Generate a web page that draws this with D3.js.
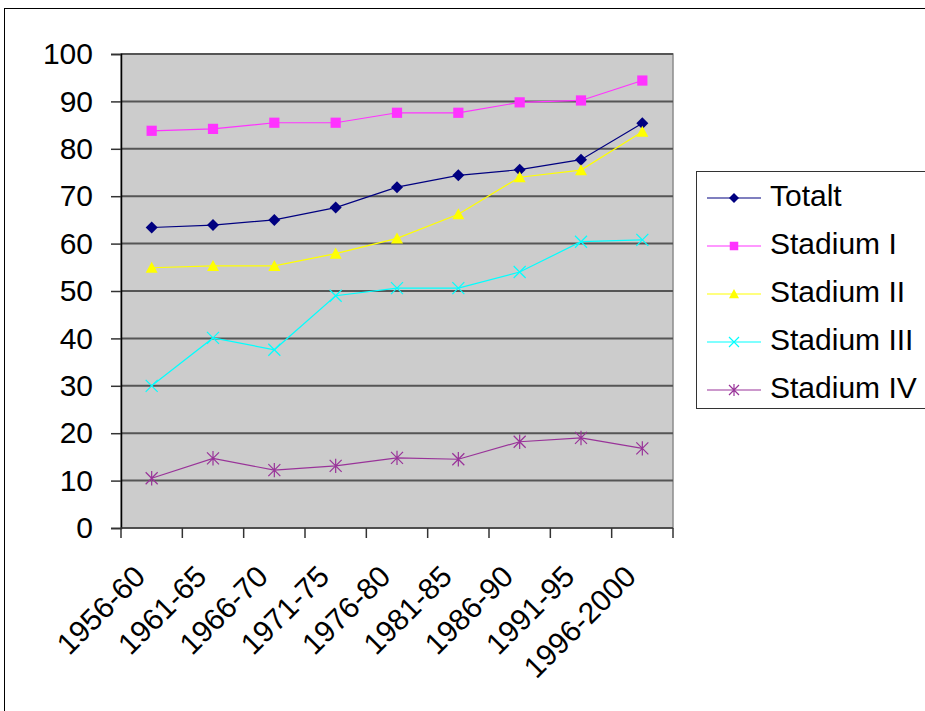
<!DOCTYPE html>
<html>

<head>
    <meta charset="utf-8">
    <style>
        body {
            margin: 0;
            background-color: white;
        }

        .chart-container {
            width: 925px;
            height: 711px;
            font-family: 'Liberation Sans', Arial, sans-serif;
        }

        svg {
            overflow: hidden;
        }
    </style>
</head>

<body>
    <div class="chart-container">
        <svg width="925px" height="711px">

        </svg>
    </div>
</body>

<script src="https://d3js.org/d3.v7.min.js"></script>

<script>
    // data
    let categories = ["1956-60", "1961-65", "1966-70", "1971-75", "1976-80", "1981-85", "1986-90", "1991-95", "1996-2000"];
    let seriesNames = ["Totalt", "Stadium I", "Stadium II", "Stadium III", "Stadium IV"];
    let totalt = [63.4, 63.9, 65.0, 67.6, 71.9, 74.4, 75.6, 77.7, 85.4];
    let stadium1 = [83.8, 84.2, 85.5, 85.5, 87.6, 87.6, 89.8, 90.2, 94.4];
    let stadium2 = [54.9, 55.3, 55.3, 57.9, 61.1, 66.2, 74.0, 75.5, 83.6];
    let stadium3 = [30.0, 40.1, 37.6, 49.0, 50.6, 50.6, 54.0, 60.4, 60.8];
    let stadium4 = [10.5, 14.7, 12.2, 13.1, 14.8, 14.5, 18.2, 19.0, 16.8];
    let yTicks = [0, 10, 20, 30, 40, 50, 60, 70, 80, 90, 100];

    let colors = ["#000080", "#ff33ff", "#ffff00", "#00ffff", "#993399"];
    let markers = ["diamond", "square", "triangle", "x", "star"];
    let allSeries = [totalt, stadium1, stadium2, stadium3, stadium4];

    let svg = d3.select("svg")

    let plotLeft = 121, plotRight = 673, plotTop = 54, plotBottom = 528;

    let x = d3.scaleBand()
        .domain(categories)
        .range([plotLeft, plotRight])

    let y = d3.scaleLinear()
        .domain([0, 100])
        .range([plotBottom, plotTop])

    // outer chart border
    svg.append("rect")
        .attr("x", 4.5)
        .attr("y", 8.5)
        .attr("width", 940)
        .attr("height", 740)
        .style("fill", "white")
        .style("stroke", "black")
        .style("stroke-width", 1)

    // plot area
    svg.append("rect")
        .attr("x", plotLeft)
        .attr("y", plotTop)
        .attr("width", plotRight - plotLeft)
        .attr("height", plotBottom - plotTop)
        .style("fill", "#cccccc")
        .style("stroke", "#8c8c8c")
        .style("stroke-width", 1.5)

    // gridlines
    svg.selectAll(".grid")
        .data(yTicks.slice(1))
        .join("line")
        .attr("x1", plotLeft)
        .attr("x2", plotRight)
        .attr("y1", d => y(d))
        .attr("y2", d => y(d))
        .style("stroke", "#555")
        .style("stroke-width", 2)

    // y axis
    let yAxis = svg.append("g")
        .attr("transform", `translate(${plotLeft},0)`)
        .call(d3.axisLeft(y).tickValues(yTicks).tickSize(10).tickPadding(18))

    yAxis.select(".domain").style("stroke", "black").style("stroke-width", 1.5)
    yAxis.selectAll(".tick line").style("stroke", "#333").style("stroke-width", 1.5)
    yAxis.selectAll("text")
        .style("font-family", "'Liberation Sans', Arial, sans-serif")
        .style("font-size", "30px")
        .style("fill", "black")

    // x axis, ticks at the category borders
    let xAxis = svg.append("g")
        .attr("transform", `translate(0,${plotBottom})`)

    xAxis.append("line")
        .attr("x1", plotLeft)
        .attr("x2", plotRight)
        .style("stroke", "#333")
        .style("stroke-width", 1.5)

    let borders = categories.map(c => x(c)).concat([plotRight])
    xAxis.selectAll(".xtick")
        .data(borders)
        .join("line")
        .attr("x1", d => d)
        .attr("x2", d => d)
        .attr("y1", 0)
        .attr("y2", 10)
        .style("stroke", "#333")
        .style("stroke-width", 1.5)

    xAxis.selectAll(".xlabel")
        .data(categories)
        .join("text")
        .attr("transform", d => `translate(${x(d) + x.bandwidth() / 2 - 12},${43}) rotate(-45)`)
        .attr("text-anchor", "end")
        .attr("dy", "0.35em")
        .style("font-size", "30px")
        .style("fill", "black")
        .text(d => d)

    // marker shapes
    function drawMarker(g, type, color, s) {
        if (type == "diamond") {
            g.append("path")
                .attr("d", `M0,${-s}L${s},0L0,${s}L${-s},0Z`)
                .style("fill", color)
        } else if (type == "square") {
            g.append("rect")
                .attr("x", -s * 0.85)
                .attr("y", -s * 0.85)
                .attr("width", s * 1.7)
                .attr("height", s * 1.7)
                .style("fill", color)
        } else if (type == "triangle") {
            g.append("path")
                .attr("d", `M0,${-s}L${s},${s * 0.85}L${-s},${s * 0.85}Z`)
                .style("fill", color)
        } else if (type == "x") {
            g.append("path")
                .attr("d", `M${-s},${-s}L${s},${s}M${-s},${s}L${s},${-s}`)
                .style("stroke", color)
                .style("stroke-width", 1.2)
        } else {
            g.append("path")
                .attr("d", `M${-s},${-s}L${s},${s}M${-s},${s}L${s},${-s}M0,${-s * 1.2}L0,${s * 1.2}`)
                .style("stroke", color)
                .style("stroke-width", 1.2)
        }
    }

    let line = d3.line()
        .x((d, i) => x(categories[i]) + x.bandwidth() / 2)
        .y(d => y(d))

    allSeries.forEach(function (values, k) {
        svg.append("path")
            .attr("d", line(values))
            .style("fill", "none")
            .style("stroke", colors[k])
            .style("stroke-width", 1.2)

        values.forEach(function (v, i) {
            let g = svg.append("g")
                .attr("transform", `translate(${x(categories[i]) + x.bandwidth() / 2},${y(v)})`)
            drawMarker(g, markers[k], colors[k], 6)
        })
    })

    // legend
    let legend = svg.append("g")

    legend.append("rect")
        .attr("x", 696.5)
        .attr("y", 171.5)
        .attr("width", 240)
        .attr("height", 237)
        .style("fill", "white")
        .style("stroke", "#333")
        .style("stroke-width", 1)

    seriesNames.forEach(function (name, k) {
        let ly = 198 + k * 48
        legend.append("line")
            .attr("x1", 707)
            .attr("x2", 761)
            .attr("y1", ly)
            .attr("y2", ly)
            .style("stroke", colors[k])
            .style("stroke-width", 1.2)
        let g = legend.append("g")
            .attr("transform", `translate(734,${ly})`)
        drawMarker(g, markers[k], colors[k], 5)
        legend.append("text")
            .attr("x", 770)
            .attr("y", ly + 8)
            .style("font-size", "30px")
            .style("fill", "black")
            .text(name)
    })
</script>

</html>
